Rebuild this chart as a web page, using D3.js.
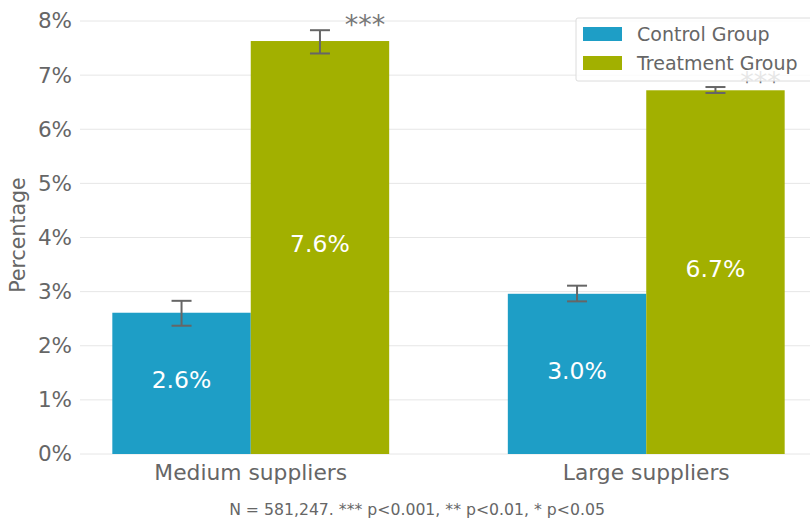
<!DOCTYPE html>
<html>
<head>
<meta charset="utf-8">
<script src="https://cdn.jsdelivr.net/npm/d3@7"></script>
<style>
  html, body { margin: 0; padding: 0; background: #fff; }
  svg { display: block; font-family: "DejaVu Sans", Verdana, sans-serif; }
</style>
</head>
<body>
<svg id="chart" width="810" height="521"></svg>
<script>
// Supplier groups and the two experimental arms
const categories = ["Medium suppliers", "Large suppliers"];
const groups = ["Control Group", "Treatment Group"];

// Percentage values per arm (one entry per category)
const controlValues = [2.61, 2.96];
const treatmentValues = [7.63, 6.72];

// Error bar bounds (low, high) per arm
const controlErrLow = [2.37, 2.82];
const controlErrHigh = [2.83, 3.11];
const treatmentErrLow = [7.40, 6.67];
const treatmentErrHigh = [7.83, 6.78];

// Significance markers for the treatment arm
const significance = ["***", "***"];

const yTicks = [0, 1, 2, 3, 4, 5, 6, 7, 8];
const footnote = "N = 581,247. *** p<0.001, ** p<0.01, * p<0.05";

const colors = { "Control Group": "#1e9ec6", "Treatment Group": "#a2b000" };

const svg = d3.select("#chart");
const plotLeft = 80, plotRight = 810, plotTop = 21, plotBottom = 454;

const y = d3.scaleLinear().domain([0, 8]).range([plotBottom, plotTop]);
const x = d3.scaleBand().domain(categories).range([53, 844]).padding(0);
const xInner = d3.scaleBand().domain(groups).range([0, x.bandwidth() * 0.7]).padding(0);
const groupOffset = x.bandwidth() * 0.15;

const rows = [];
categories.forEach((c, i) => {
  rows.push({ cat: c, group: "Control Group", value: controlValues[i], lo: controlErrLow[i], hi: controlErrHigh[i], sig: null });
  rows.push({ cat: c, group: "Treatment Group", value: treatmentValues[i], lo: treatmentErrLow[i], hi: treatmentErrHigh[i], sig: significance[i] });
});
const barX = d => x(d.cat) + groupOffset + xInner(d.group);
const barCx = d => barX(d) + xInner.bandwidth() / 2;

// Horizontal gridlines
svg.append("g")
  .selectAll("line")
  .data(yTicks)
  .join("line")
  .attr("x1", plotLeft).attr("x2", plotRight)
  .attr("y1", d => y(d)).attr("y2", d => y(d))
  .attr("stroke", "#e6e6e6").attr("stroke-width", 1);

// Y axis tick labels
const yAxis = d3.axisLeft(y).tickValues(yTicks).tickFormat(d => d + "%").tickSize(0).tickPadding(8);
const yg = svg.append("g").attr("transform", `translate(${plotLeft},0)`).call(yAxis);
yg.select(".domain").remove();
yg.selectAll("text")
  .attr("font-size", 21.5).attr("fill", "#666")
  .attr("font-family", "'DejaVu Sans', Verdana, sans-serif");

// Y axis title
svg.append("text")
  .attr("transform", `translate(25,235) rotate(-90)`)
  .attr("text-anchor", "middle")
  .attr("font-size", 20.5).attr("fill", "#666")
  .text("Percentage");

// Bars
svg.append("g")
  .selectAll("rect")
  .data(rows)
  .join("rect")
  .attr("x", barX)
  .attr("width", xInner.bandwidth())
  .attr("y", d => y(d.value))
  .attr("height", d => y(0) - y(d.value))
  .attr("fill", d => colors[d.group]);

// Value labels inside bars
svg.append("g")
  .selectAll("text")
  .data(rows)
  .join("text")
  .attr("x", barCx)
  .attr("y", d => (y(0) + y(d.value)) / 2)
  .attr("dy", "0.2em")
  .attr("text-anchor", "middle")
  .attr("font-size", 23.5).attr("fill", "#fff")
  .text(d => d3.format(".1f")(d.value) + "%");

// Error bars
const eb = svg.append("g").attr("stroke", "#666").attr("stroke-width", 2);
rows.forEach(d => {
  const cx = barCx(d);
  eb.append("line").attr("x1", cx).attr("x2", cx).attr("y1", y(d.lo)).attr("y2", y(d.hi));
  eb.append("line").attr("x1", cx - 10).attr("x2", cx + 10).attr("y1", y(d.lo)).attr("y2", y(d.lo));
  eb.append("line").attr("x1", cx - 10).attr("x2", cx + 10).attr("y1", y(d.hi)).attr("y2", y(d.hi));
});

// Significance stars
svg.append("g")
  .selectAll("text")
  .data(rows.filter(d => d.sig))
  .join("text")
  .attr("x", d => barCx(d) + 45)
  .attr("y", d => y(d.hi) + 3.5)
  .attr("text-anchor", "middle")
  .attr("font-size", 27).attr("fill", "#777")
  .text(d => d.sig);

// X category labels
svg.append("g")
  .selectAll("text")
  .data(categories)
  .join("text")
  .attr("x", d => x(d) + x.bandwidth() / 2)
  .attr("y", 480)
  .attr("text-anchor", "middle")
  .attr("font-size", 21.8).attr("fill", "#666")
  .text(d => d);

// Footnote
svg.append("text")
  .attr("x", 417).attr("y", 515)
  .attr("text-anchor", "middle")
  .attr("font-size", 15.7).attr("fill", "#666")
  .text(footnote);

// Legend
const lg = svg.append("g").attr("transform", "translate(576,18)");
lg.append("rect")
  .attr("x", 0).attr("y", 0).attr("width", 240).attr("height", 63)
  .attr("rx", 2)
  .attr("fill", "rgba(255,255,255,0.82)")
  .attr("stroke", "#dcdcdc").attr("stroke-width", 1);
groups.forEach((g, i) => {
  const row = lg.append("g").attr("transform", `translate(7,${9 + i * 29})`);
  row.append("rect").attr("width", 39).attr("height", 14).attr("fill", colors[g]);
  row.append("text").attr("x", 54).attr("y", 7).attr("dy", "0.35em")
    .attr("font-size", 19).attr("fill", "#666").text(g);
});
</script>
</body>
</html>
